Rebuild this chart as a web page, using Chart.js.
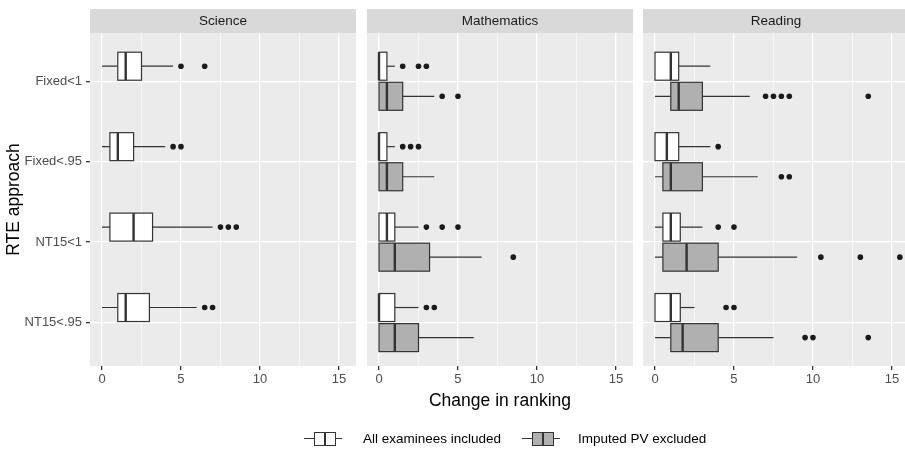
<!DOCTYPE html>
<html>
<head>
<meta charset="utf-8">
<script src="https://cdn.jsdelivr.net/npm/chart.js@4.4.1/dist/chart.umd.min.js"></script>
<style>
    body { margin: 0; width: 905px; height: 449px; overflow: hidden; background: #fff; position: relative;
           font-family: 'Liberation Sans', Arial, sans-serif; }
    canvas { position: absolute; top: 0; }
    #x-title { position: absolute; left: 400px; width: 200px; top: 390px; text-align: center;
               font-size: 17.5px; line-height: 20px; color: #000; }
    .leg-text { position: absolute; top: 431px; font-size: 13.5px; line-height: 16px; color: #000; white-space: nowrap; }
    .key { position: absolute; top: 432px; width: 38px; height: 14px; }
    .key .wh { position: absolute; left: 0; right: 0; top: 6px; height: 1.2px; background: #333; }
    .key .bx { position: absolute; left: 10px; width: 20px; top: 0; height: 12px; border: 1.2px solid #333; }
    .key .md { position: absolute; left: 9px; width: 2.4px; top: 0; height: 12px; background: #333; }
</style>
</head>
<body>
<canvas id="chart-science" width="357" height="395" style="left:0px"></canvas>
<canvas id="chart-math" width="268" height="395" style="left:366px"></canvas>
<canvas id="chart-reading" width="268" height="395" style="left:642px"></canvas>
<div id="x-title">Change in ranking</div>

<div class="key" style="left:304px"><div class="wh"></div><div class="bx" style="background:#fff"><div class="md"></div></div></div>
<div class="leg-text" style="left:363px">All examinees included</div>
<div class="key" style="left:522px"><div class="wh"></div><div class="bx" style="background:#b0b0b0"><div class="md"></div></div></div>
<div class="leg-text" style="left:578px">Imputed PV excluded</div>

<script>
(function() {
    'use strict';

    // Facets, categories and groups
    const subjects = ['Science', 'Mathematics', 'Reading'];
    const categories = ['Fixed<1', 'Fixed<.95', 'NT15<1', 'NT15<.95'];
    const groups = ['All examinees included', 'Imputed PV excluded'];
    const xTicks = [0, 2.5, 5, 7.5, 10, 12.5, 15];

    // Box stats per category: [lower whisker, q1, median, q3, upper whisker]
    const scienceAll = [[0, 1, 1.5, 2.5, 4.5], [0, 0.5, 1, 2, 4], [0, 0.5, 2, 3.2, 7], [0, 1, 1.5, 3, 6]];
    const scienceAllOut = [[5, 6.5], [4.5, 5], [7.5, 8, 8.5], [6.5, 7]];

    const mathAll = [[0, 0, 0, 0.5, 1], [0, 0, 0, 0.5, 1], [0, 0, 0.5, 1, 2.5], [0, 0, 0, 1, 2.5]];
    const mathAllOut = [[1.5, 2.5, 3], [1.5, 2, 2.5], [3, 4, 5], [3, 3.5]];
    const mathExcl = [[0, 0, 0.5, 1.5, 3.5], [0, 0, 0.5, 1.5, 3.5], [0, 0, 1, 3.2, 6.5], [0, 0, 1, 2.5, 6]];
    const mathExclOut = [[4, 5], [], [8.5], []];

    const readingAll = [[0, 0, 1, 1.5, 3.5], [0, 0, 0.75, 1.5, 3.5], [0, 0.5, 1, 1.6, 3], [0, 0, 1, 1.6, 2.5]];
    const readingAllOut = [[], [4], [4, 5], [4.5, 5]];
    const readingExcl = [[0, 1, 1.5, 3, 6], [0, 0.5, 1, 3, 6.5], [0, 0.5, 2, 4, 9], [0, 1, 1.75, 4, 7.5]];
    const readingExclOut = [[7, 7.5, 8, 8.5, 13.5], [8, 8.5], [10.5, 13, 15.5], [9.5, 10, 13.5]];

    const FILL_ALL = '#ffffff';
    const FILL_EXCL = '#b0b0b0';
    const DODGE = 0.187;      // category units
    const BOX_HALF = 0.174;
    const LINE = '#333333';
    const FONT = "'Liberation Sans', Arial, sans-serif";

    Chart.defaults.font.family = FONT;

    // Draws panel background, strip and the boxes through the chart scales
    function facetPlugin(title, series) {
        return {
            id: 'facet',
            beforeDraw(chart) {
                const { ctx, chartArea: a } = chart;
                ctx.save();
                ctx.fillStyle = '#ebebeb';
                ctx.fillRect(a.left, a.top, a.width, a.height);
                ctx.fillStyle = '#d9d9d9';
                ctx.fillRect(a.left, 9, a.width, a.top - 9);
                ctx.fillStyle = '#1a1a1a';
                ctx.font = '13.5px ' + FONT;
                ctx.textAlign = 'center';
                ctx.textBaseline = 'middle';
                ctx.fillText(title, (a.left + a.right) / 2, (9 + a.top) / 2 + 0.5);
                ctx.restore();
            },
            beforeDatasetsDraw(chart) {
                const { ctx, chartArea: a, scales: { x, y } } = chart;
                ctx.save();
                ctx.beginPath();
                ctx.rect(a.left, a.top, a.width, a.height);
                ctx.clip();
                ctx.strokeStyle = LINE;
                series.forEach(s => {
                    if (!s.stats) return;
                    s.stats.forEach((st, i) => {
                        const yc = y.getPixelForValue(i + 1 + s.offset);
                        const h = Math.abs(y.getPixelForValue(i + 1 + s.offset + BOX_HALF) - yc);
                        const [lo, q1, md, q3, hi] = st.map(v => x.getPixelForValue(v));
                        ctx.lineWidth = 1.2;
                        ctx.beginPath();
                        ctx.moveTo(lo, yc); ctx.lineTo(q1, yc);
                        ctx.moveTo(q3, yc); ctx.lineTo(hi, yc);
                        ctx.stroke();
                        ctx.fillStyle = s.fill;
                        ctx.fillRect(q1, yc - h, q3 - q1, 2 * h);
                        ctx.strokeRect(q1, yc - h, q3 - q1, 2 * h);
                        ctx.lineWidth = 2.4;
                        ctx.beginPath();
                        ctx.moveTo(md, yc - h); ctx.lineTo(md, yc + h);
                        ctx.stroke();
                    });
                });
                ctx.restore();
            }
        };
    }

    function outlierData(outs, offset) {
        return outs.flatMap((arr, i) => arr.map(v => ({ x: v, y: i + 1 + offset })));
    }

    function createPanel(id, title, series, showY) {
        const canvas = document.getElementById(id);
        const datasets = series.filter(s => s.out).map(s => ({
            label: s.label,
            data: outlierData(s.out, s.offset),
            pointRadius: 2.8,
            pointBackgroundColor: '#1a1a1a',
            pointBorderWidth: 0
        }));

        return new Chart(canvas, {
            type: 'scatter',
            data: { datasets: datasets },
            options: {
                responsive: false,
                animation: false,
                events: [],
                layout: { autoPadding: false, padding: { top: 33, left: showY ? 0 : 1, right: 1, bottom: 0 } },
                plugins: { legend: { display: false }, tooltip: { enabled: false } },
                scales: {
                    x: {
                        type: 'linear',
                        min: -0.76,
                        max: 16.08,
                        afterBuildTicks: s => { s.ticks = xTicks.map(v => ({ value: v })); },
                        afterFit: s => { s.height = 29; s.paddingLeft = 0; s.paddingRight = 0; },
                        border: { display: false },
                        grid: {
                            color: '#ffffff',
                            lineWidth: c => (c.tick && c.tick.value % 5 === 0) ? 1.3 : 0.6,
                            tickColor: c => (c.tick && c.tick.value % 5 === 0) ? LINE : 'rgba(0,0,0,0)',
                            tickLength: 4
                        },
                        ticks: {
                            autoSkip: false,
                            maxRotation: 0,
                            padding: 2,
                            color: '#4d4d4d',
                            font: { size: 13 },
                            callback: v => v % 5 === 0 ? String(v) : ''
                        }
                    },
                    y: {
                        type: 'linear',
                        reverse: true,
                        min: 0.4,
                        max: 4.54,
                        afterBuildTicks: s => { s.ticks = categories.map((c, i) => ({ value: i + 1 })); },
                        afterFit: s => { s.width = showY ? 90 : 0; s.paddingTop = 0; s.paddingBottom = 0; },
                        border: { display: false },
                        grid: {
                            color: '#ffffff',
                            lineWidth: 1.3,
                            drawTicks: showY,
                            tickColor: LINE,
                            tickLength: 4
                        },
                        ticks: {
                            display: showY,
                            padding: 4,
                            color: '#4d4d4d',
                            font: { size: 13 },
                            callback: v => categories[v - 1] || ''
                        },
                        title: {
                            display: showY,
                            text: 'RTE approach',
                            color: '#000',
                            font: { size: 17.5 },
                            padding: { top: 4, bottom: 0 }
                        }
                    }
                }
            },
            plugins: [facetPlugin(title, series)]
        });
    }

    createPanel('chart-science', subjects[0], [
        { label: groups[0], stats: scienceAll, out: scienceAllOut, fill: FILL_ALL, offset: -DODGE }
    ], true);

    createPanel('chart-math', subjects[1], [
        { label: groups[0], stats: mathAll, out: mathAllOut, fill: FILL_ALL, offset: -DODGE },
        { label: groups[1], stats: mathExcl, out: mathExclOut, fill: FILL_EXCL, offset: DODGE }
    ], false);

    createPanel('chart-reading', subjects[2], [
        { label: groups[0], stats: readingAll, out: readingAllOut, fill: FILL_ALL, offset: -DODGE },
        { label: groups[1], stats: readingExcl, out: readingExclOut, fill: FILL_EXCL, offset: DODGE }
    ], false);
})();
</script>
</body>
</html>
